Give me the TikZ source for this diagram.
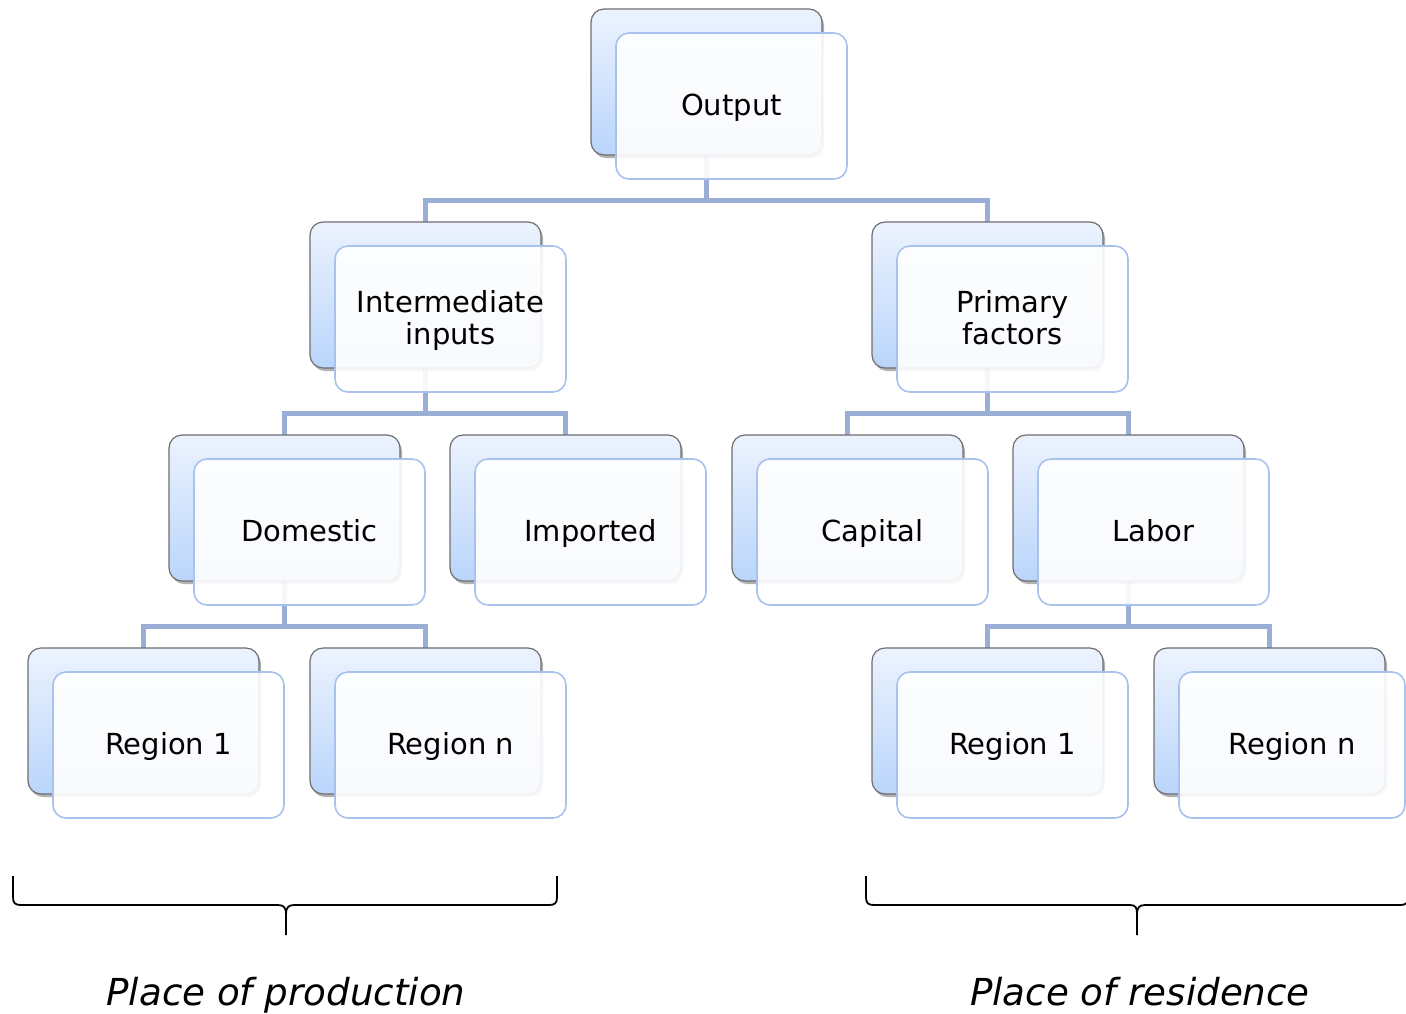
\documentclass[tikz,border=0pt]{standalone}
\usepackage{fontspec}
\setmainfont{DejaVu Sans}
\usetikzlibrary{shadows,calc}
\newcommand\boxstrut{\rule[-9.6pt]{0pt}{38pt}}
\newcommand\lowstrut{\rule[-9.6pt]{0pt}{9.6pt}}
\definecolor{conncol}{RGB}{155,175,214}
\definecolor{backtop}{RGB}{236,243,254}
\definecolor{backbot}{RGB}{186,213,251}
\definecolor{backedge}{RGB}{110,110,110}
\definecolor{frontedge}{RGB}{168,194,238}
\tikzset{
  conn/.style={draw=conncol, line width=5pt},
  backbox/.style={rectangle, rounded corners=13pt, minimum width=231pt, minimum height=146pt,
     inner sep=0pt, draw=backedge, line width=1.2pt, top color=backtop, bottom color=backbot,
     drop shadow={shadow xshift=2pt, shadow yshift=-3pt, opacity=0.3, fill=black}},
  frontbox/.style={rectangle, rounded corners=13pt, minimum width=231pt, minimum height=146pt,
     inner sep=0pt, draw=frontedge, line width=1.6pt, fill=white, fill opacity=0.9, text opacity=1,
     align=center, font=\fontsize{29}{32}\selectfont},
  brace/.style={draw=black, line width=1.8pt},
  caption/.style={font=\fontsize{37.2}{40}\selectfont\itshape, anchor=base}
}
\begin{document}
\begin{tikzpicture}[x=1pt,y=-1pt]
\useasboundingbox (0,0) rectangle (1406,1013);
\clip (0,0) rectangle (1406,1013);
% back boxes (centres)
\coordinate (cO)  at (706.5,82);
\coordinate (cI)  at (425.5,295);
\coordinate (cP)  at (987.5,295);
\coordinate (cD)  at (284.5,508);
\coordinate (cM)  at (565.5,508);
\coordinate (cC)  at (847.5,508);
\coordinate (cL)  at (1128.5,508);
\coordinate (cR1) at (143.5,721);
\coordinate (cRn) at (425.5,721);
\coordinate (cS1) at (987.5,721);
\coordinate (cSn) at (1269.5,721);
% junctions
\coordinate (j1) at (706.5,200);
\coordinate (j2) at (425.5,413);
\coordinate (j3) at (987.5,413);
\coordinate (j4) at (284.5,626);
\coordinate (j5) at (1128.5,626);
% connectors
\draw[conn] (cO) -- (j1) -| (cI);
\draw[conn] (j1) -| (cP);
\draw[conn] (cI) -- (j2) -| (cD);
\draw[conn] (j2) -| (cM);
\draw[conn] (cP) -- (j3) -| (cC);
\draw[conn] (j3) -| (cL);
\draw[conn] (cD) -- (j4) -| (cR1);
\draw[conn] (j4) -| (cRn);
\draw[conn] (cL) -- (j5) -| (cS1);
\draw[conn] (j5) -| (cSn);
% back boxes
\foreach \n in {O,I,P,D,M,C,L,R1,Rn,S1,Sn}{
  \node[backbox] (b\n) at (c\n) {};
}
% front boxes
\node[frontbox] (fO)  at ($(cO)+(25,24)$) {\boxstrut Output};
\node[frontbox] (fI)  at ($(cI)+(25,24)$) {\boxstrut Intermediate\\\lowstrut inputs};
\node[frontbox] (fP)  at ($(cP)+(25,24)$) {\boxstrut Primary\\\lowstrut factors};
\node[frontbox] (fD)  at ($(cD)+(25,24)$) {\boxstrut Domestic};
\node[frontbox] (fM)  at ($(cM)+(25,24)$) {\boxstrut Imported};
\node[frontbox] (fC)  at ($(cC)+(25,24)$) {\boxstrut Capital};
\node[frontbox] (fL)  at ($(cL)+(25,24)$) {\boxstrut Labor};
\node[frontbox] (fR1) at ($(cR1)+(25,24)$) {\boxstrut Region 1};
\node[frontbox] (fRn) at ($(cRn)+(25,24)$) {\boxstrut Region n};
\node[frontbox] (fS1) at ($(cS1)+(25,24)$) {\boxstrut Region 1};
\node[frontbox, minimum width=226pt] (fSn) at ($(cSn)+(22.5,24)$) {\boxstrut Region n};
% braces
\draw[brace] (13,876) -- (13,897) .. controls (13,903) and (15,905) .. (21,905) -- (278,905)
   .. controls (284,905) and (286,908) .. (286,914) -- (286,935);
\draw[brace] (286,914) .. controls (286,908) and (288,905) .. (294,905) -- (549,905)
   .. controls (555,905) and (557,903) .. (557,897) -- (557,876);
\draw[brace] (866,876) -- (866,897) .. controls (866,903) and (868,905) .. (874,905) -- (1130,905)
   .. controls (1136,905) and (1137,908) .. (1137,914) -- (1137,935);
\draw[brace] (1137,914) .. controls (1137,908) and (1139,905) .. (1145,905) -- (1400,905)
   .. controls (1406,905) and (1408,903) .. (1408,897) -- (1408,876);
\node[caption] (tp) at (286,1005) {Place of production};
\node[caption] (tr) at (1140,1005) {Place of residence};
\end{tikzpicture}
\end{document}
